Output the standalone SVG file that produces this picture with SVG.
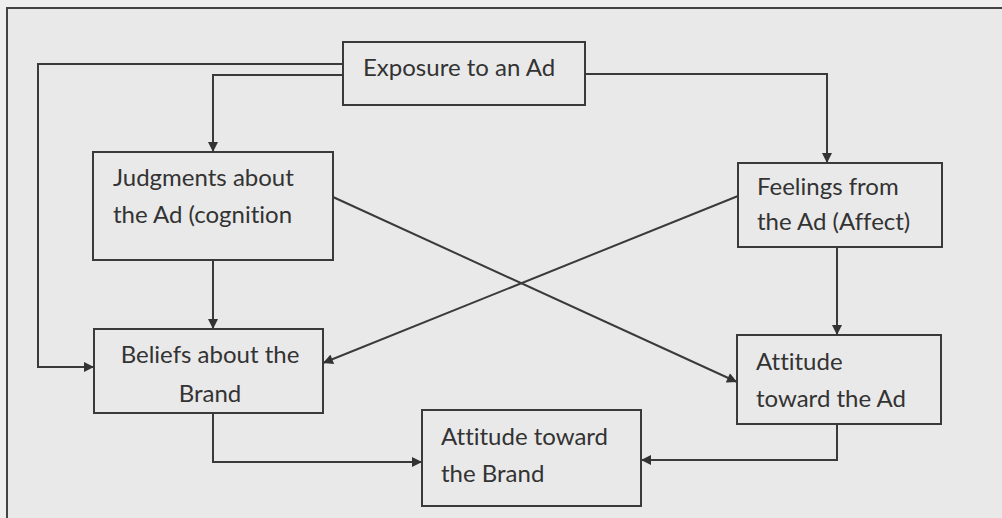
<svg xmlns="http://www.w3.org/2000/svg" width="1002" height="518" viewBox="0 0 1002 518">
  <defs>
    <style>
      .box { fill: #e9e9e9; stroke: #3a3a3a; stroke-width: 2; }
      .lbl { font-family: Lato, "Open Sans", "Liberation Sans", sans-serif; font-size: 24px; fill: #333333; font-variant-ligatures: none; }
      .con { fill: none; stroke: #3a3a3a; stroke-width: 2; marker-end: url(#arr); }
    </style>
    <marker id="arr" viewBox="0 0 10 10" refX="10" refY="5" markerWidth="11" markerHeight="10" markerUnits="userSpaceOnUse" orient="auto">
      <path d="M0,0 L10,5 L0,10 Z" fill="#333333"/>
    </marker>
  </defs>
  <rect x="0" y="0" width="1002" height="518" fill="#efefef"/>
  <rect x="7" y="8" width="1000" height="520" fill="#e9e9e9" stroke="#444" stroke-width="2"/>

  <g id="connectors">
    <path class="con" d="M343,64 H38 V367 H94"/>
    <path class="con" d="M343,75 H213 V152"/>
    <path class="con" d="M585,74 H827 V163"/>
    <path class="con" d="M213,260 V329"/>
    <path class="con" d="M333,197 L737,382"/>
    <path class="con" d="M738,196 L323,363"/>
    <path class="con" d="M837,247 V335"/>
    <path class="con" d="M213,413 V462 H422"/>
    <path class="con" d="M837,424 V460 H641"/>
  </g>

  <g id="exposure">
    <rect class="box" x="343" y="42" width="242" height="63"/>
    <text class="lbl" x="363" y="76">Exposure to an Ad</text>
  </g>
  <g id="judgments">
    <rect class="box" x="93" y="152" width="240" height="108"/>
    <text class="lbl" x="113" y="186">Judgments about</text>
    <text class="lbl" x="113" y="223">the Ad (cognition</text>
  </g>
  <g id="feelings">
    <rect class="box" x="738" y="163" width="204" height="84"/>
    <text class="lbl" x="757" y="195">Feelings from</text>
    <text class="lbl" x="757" y="230">the Ad (Affect)</text>
  </g>
  <g id="beliefs">
    <rect class="box" x="94" y="329" width="229" height="84"/>
    <text class="lbl" x="210" y="363" text-anchor="middle">Beliefs about the</text>
    <text class="lbl" x="210" y="402" text-anchor="middle">Brand</text>
  </g>
  <g id="attitude-ad">
    <rect class="box" x="737" y="335" width="204" height="89"/>
    <text class="lbl" x="756" y="370">Attitude</text>
    <text class="lbl" x="756" y="407">toward the Ad</text>
  </g>
  <g id="attitude-brand">
    <rect class="box" x="422" y="410" width="219" height="96"/>
    <text class="lbl" x="441" y="445">Attitude toward</text>
    <text class="lbl" x="441" y="482">the Brand</text>
  </g>
</svg>
